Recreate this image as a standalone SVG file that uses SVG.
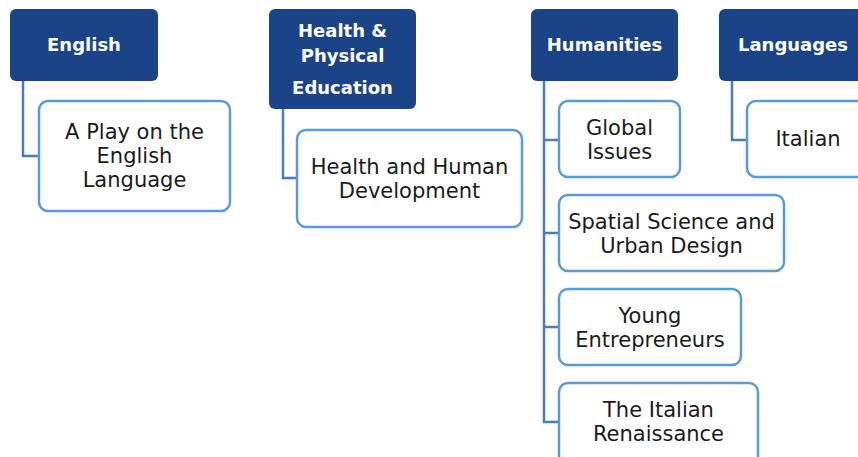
<svg xmlns="http://www.w3.org/2000/svg" width="858" height="457" viewBox="0 0 858 457">
<style>
.h{fill:#1a4487;}
.c{fill:#fff;stroke:#5b9bd5;stroke-width:2.5;}
.ht{font-family:"DejaVu Sans",sans-serif;font-weight:bold;font-size:18px;fill:#fff;text-anchor:middle;}
.ct{font-family:"DejaVu Sans",sans-serif;font-size:21px;fill:#1a1a1a;text-anchor:middle;}
.l{fill:none;stroke:#4a7db5;stroke-width:2.5;}
</style>
<rect width="858" height="457" fill="#fff"/>
<g id="connectors">
<path class="l" d="M23 81V156H39"/>
<path class="l" d="M283 109V178H297"/>
<path class="l" d="M544 81V422H559M544 140H559M544 233H559M544 327H559"/>
<path class="l" d="M732 81V140H747"/>
</g>
<g id="english"><rect class="h" x="10" y="9" width="148" height="72" rx="6"/><text class="ht" x="84" y="51">English</text></g>
<g id="play"><rect class="c" x="39" y="101" width="191" height="110" rx="9"/><text class="ct"><tspan x="134.5" y="139">A Play on the</tspan><tspan x="134.5" y="163">English</tspan><tspan x="134.5" y="187">Language</tspan></text></g>
<g id="hpe"><rect class="h" x="269" y="9" width="147" height="100" rx="6"/><text class="ht"><tspan x="342.5" y="37">Health &amp;</tspan><tspan x="342.5" y="62">Physical</tspan><tspan x="342.5" y="94">Education</tspan></text></g>
<g id="hhd"><rect class="c" x="297" y="130" width="225" height="97" rx="9"/><text class="ct"><tspan x="409.5" y="174">Health and Human</tspan><tspan x="409.5" y="198">Development</tspan></text></g>
<g id="humanities"><rect class="h" x="531" y="9" width="147" height="72" rx="6"/><text class="ht" x="604.5" y="51">Humanities</text></g>
<g id="global"><rect class="c" x="559" y="101" width="121" height="76" rx="9"/><text class="ct"><tspan x="619.5" y="135">Global</tspan><tspan x="619.5" y="159">Issues</tspan></text></g>
<g id="spatial"><rect class="c" x="559" y="195" width="225" height="76" rx="9"/><text class="ct"><tspan x="671.5" y="229">Spatial Science and</tspan><tspan x="671.5" y="253">Urban Design</tspan></text></g>
<g id="young"><rect class="c" x="559" y="289" width="182" height="76" rx="9"/><text class="ct"><tspan x="650" y="323">Young</tspan><tspan x="650" y="347">Entrepreneurs</tspan></text></g>
<g id="renaissance"><rect class="c" x="559" y="383" width="199" height="84" rx="9"/><text class="ct"><tspan x="658.5" y="417">The Italian</tspan><tspan x="658.5" y="441">Renaissance</tspan></text></g>
<g id="languages"><rect class="h" x="719" y="9" width="150" height="72" rx="6"/><text class="ht" x="793" y="51">Languages</text></g>
<g id="italian"><rect class="c" x="747" y="101" width="122" height="76" rx="9"/><text class="ct" x="808" y="146">Italian</text></g>
</svg>
